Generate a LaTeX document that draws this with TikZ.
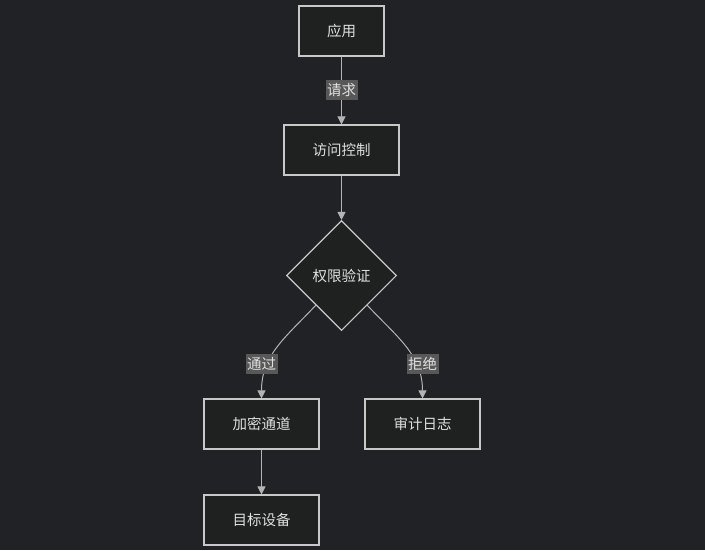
\documentclass[tikz,border=0pt]{standalone}
\usepackage{fontspec}
\newfontfamily\cjk{Noto Sans CJK SC}
\usetikzlibrary{shapes.geometric,arrows.meta}
\definecolor{bg}{HTML}{212226}
\definecolor{nodefill}{HTML}{1F2020}
\definecolor{nodeline}{HTML}{C8C8C8}
\definecolor{edgecol}{HTML}{B4B4B4}
\definecolor{lblbg}{HTML}{585858}
\definecolor{txt}{HTML}{E0E0E0}
\tikzset{
  box/.style={draw=nodeline, line width=1.1pt, fill=nodefill, minimum width=115pt, minimum height=50pt, inner sep=0pt, text=txt, font=\cjk\fontsize{14.5}{16}\selectfont},
  dia/.style={draw=nodeline, line width=1.1pt, fill=nodefill, diamond, minimum width=110pt, minimum height=110pt, inner sep=0pt, text=txt, font=\cjk\fontsize{14.5}{16}\selectfont},
  lbl/.style={fill=lblbg, text=txt, inner xsep=1.5pt, inner ysep=3pt, font=\cjk\fontsize{14.5}{16}\selectfont},
  edge/.style={draw=edgecol, line width=1pt, -{Triangle[length=8pt,width=8pt]}}
}
\begin{document}
\begin{tikzpicture}[x=1pt,y=-1pt]
\fill[bg] (0,0) rectangle (705,550);
\useasboundingbox (0,0) rectangle (705,550);
\node[box, minimum width=85pt] (app) at (341.5,31) {应用};
\node[box] (ac) at (341.5,150) {访问控制};
\node[dia] (chk) at (341.5,275.5) {权限验证};
\node[box] (enc) at (261.5,424) {加密通道};
\node[box] (log) at (422.5,424) {审计日志};
\node[box] (dev) at (261.5,520) {目标设备};
\coordinate (dl) at (316,305);
\coordinate (dr) at (367,305);
\draw[edge] (app) -- (ac);
\draw[edge] (ac) -- (chk);
\draw[edge] (dl) .. controls (285,338) and (261.5,355) .. (enc.north);
\draw[edge] (dr) .. controls (398,338) and (422.5,355) .. (log.north);
\draw[edge] (enc) -- (dev);
\node[lbl] (l1) at (341.5,90) {请求};
\node[lbl] (l2) at (261.5,364) {通过};
\node[lbl] (l3) at (422.5,364) {拒绝};
\end{tikzpicture}
\end{document}
